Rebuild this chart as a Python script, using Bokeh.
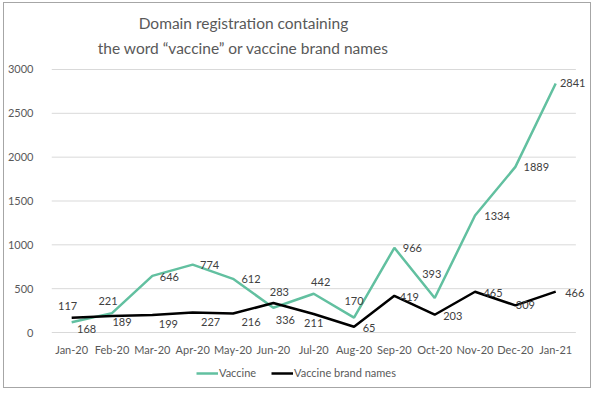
from bokeh.plotting import figure
from bokeh.layouts import column
from bokeh.models import ColumnDataSource, Range1d, Legend, LegendItem, Label, FixedTicker
from bokeh.embed import file_html
from bokeh.resources import INLINE
from bokeh.core.properties import value

title_lines = ["Domain registration containing",
               "the word \u201cvaccine\u201d or vaccine brand names"]
months = ["Jan-20", "Feb-20", "Mar-20", "Apr-20", "May-20", "Jun-20", "Jul-20",
          "Aug-20", "Sep-20", "Oct-20", "Nov-20", "Dec-20", "Jan-21"]
vaccine = [117, 221, 646, 774, 612, 283, 442, 170, 966, 393, 1334, 1889, 2841]
brand = [168, 189, 199, 227, 216, 336, 211, 65, 419, 203, 465, 309, 466]
y_ticks = [0, 500, 1000, 1500, 2000, 2500, 3000]
series_names = ["Vaccine", "Vaccine brand names"]

# label offsets in screen pixels (style)
vac_dx = [-4, -4, 17, 17, 18, 6, 7, 0, 18, -3, 22, 21, 17]
vac_dy = [-16, -12, 1, 0, 0, -16, -12, -17, 0, -24, 0, 0, 0]
br_dx = [15, 10, 16, 18, 18, 12, 0, 15, 15, 18, 18, 10, 19]
br_dy = [11, 6, 9, 9, 8, 17, 9, 1, 1, 1, 1, 0, 1]

GREEN = "#62C0A0"
TXT = "#595959"
FONT = "Lato"
W = 586

# ---- title strip ----
pt = figure(width=W, height=57, output_backend="svg", toolbar_location=None,
            x_range=Range1d(48, 588), y_range=Range1d(57, 0),
            min_border_left=44, min_border_right=2, min_border_top=0, min_border_bottom=0)
pt.axis.visible = False
pt.grid.grid_line_color = None
pt.outline_line_color = None
for line_text, ty in zip(title_lines, [19, 44]):
    pt.add_layout(Label(x=241, y=ty, text=line_text, text_align="center", text_baseline="middle",
                        text_font=FONT, text_font_size="15.5px", text_color=TXT))

# ---- main chart ----
idx = list(range(len(months)))
src_v = ColumnDataSource(dict(x=idx, y=vaccine, t=[str(v) for v in vaccine], dx=vac_dx, dy=vac_dy))
src_b = ColumnDataSource(dict(x=idx, y=brand, t=[str(v) for v in brand], dx=br_dx, dy=br_dy))

p = figure(x_range=Range1d(-0.5, len(months) - 0.187), y_range=Range1d(-45.5, 3045.5),
           width=W, height=298, output_backend="svg", toolbar_location=None,
           min_border_left=44, min_border_right=2, min_border_top=5, min_border_bottom=21)
p.outline_line_color = None
p.background_fill_color = "white"
p.border_fill_color = "white"

p.xgrid.grid_line_color = None
p.ygrid.grid_line_color = None
p.segment(x0=-0.5, x1=len(months) - 0.5, y0=y_ticks, y1=y_ticks,
          line_color="#d9d9d9", line_width=1)

p.yaxis.ticker = FixedTicker(ticks=y_ticks)
p.xaxis.ticker = FixedTicker(ticks=idx)
p.xaxis.major_label_overrides = {i: m for i, m in zip(idx, months)}
for ax in (p.xaxis[0], p.yaxis[0]):
    ax.axis_line_color = None
    ax.major_tick_line_color = None
    ax.minor_tick_line_color = None
    ax.major_label_text_font = FONT
    ax.major_label_text_font_size = "11px"
    ax.major_label_text_color = TXT
p.yaxis.major_label_standoff = 12
p.xaxis.major_label_standoff = 0

p.line("x", "y", source=src_v, line_color=GREEN, line_width=2.5)
p.line("x", "y", source=src_b, line_color="black", line_width=2.5)

for s in (src_v, src_b):
    p.text("x", "y", text="t", source=s, x_offset="dx", y_offset="dy",
           text_align="center", text_baseline="middle",
           text_font=value(FONT), text_font_size="11px", text_color="#404040")

# ---- legend strip (series drawn out of view; only legend swatches show) ----
pl = figure(width=W, height=29, output_backend="svg", toolbar_location=None,
            x_range=Range1d(0, 1), y_range=Range1d(-2, -1),
            min_border_left=44, min_border_right=2, min_border_top=0, min_border_bottom=0)
pl.axis.visible = False
pl.grid.grid_line_color = None
pl.outline_line_color = None
lv = pl.line(x=idx, y=vaccine, line_color=GREEN, line_width=2.5)
lb = pl.line(x=idx, y=brand, line_color="black", line_width=2.5)
legend = Legend(items=[LegendItem(label=series_names[0], renderers=[lv]),
                       LegendItem(label=series_names[1], renderers=[lb])],
                orientation="horizontal", location=(145, 8),
                label_text_font=FONT, label_text_font_size="11px", label_text_color=TXT,
                glyph_width=22, glyph_height=10, spacing=15, label_standoff=1,
                border_line_color=None, background_fill_alpha=0, padding=2, margin=0)
pl.add_layout(legend, "center")

layout = column(pt, p, pl, spacing=0,
                styles={"border": "1px solid #a6a6a6", "margin": "2px 0 0 3px"})
open("out.html", "w").write(file_html(layout, INLINE))
